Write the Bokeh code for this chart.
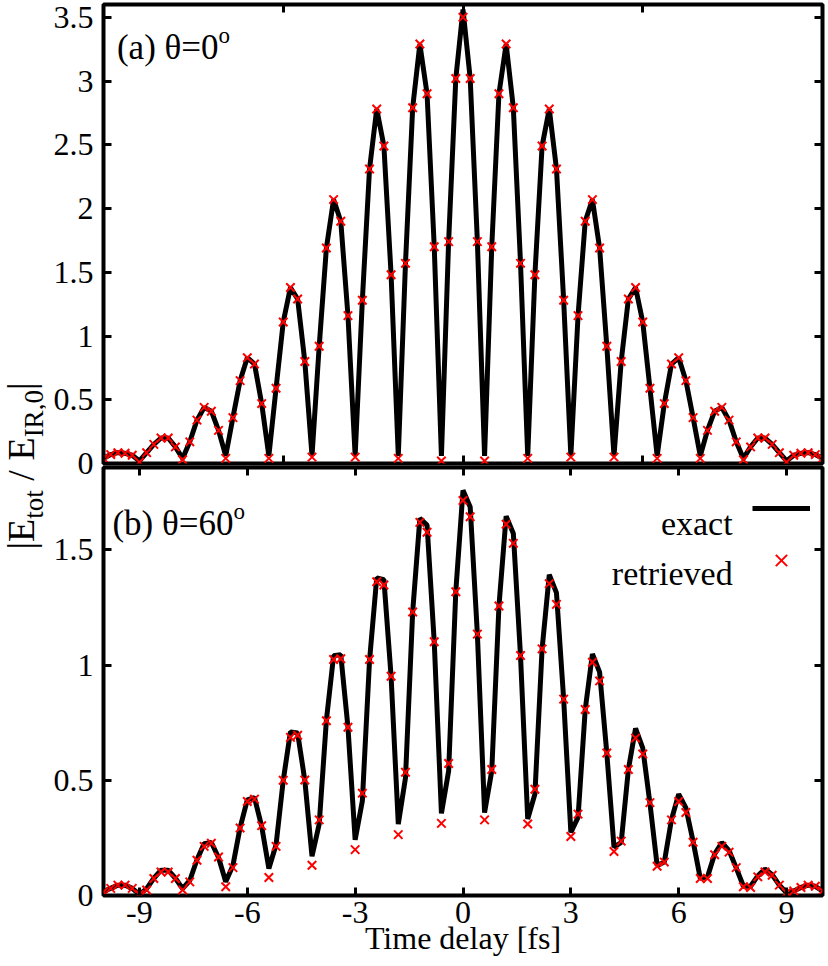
from bokeh.plotting import figure
from bokeh.models import (Range1d, LinearAxis, FixedTicker, Label, Legend,
                          LegendItem, Div, ColumnDataSource, CustomLabelingPolicy)
from bokeh.layouts import row, column
from bokeh.embed import file_html
from bokeh.resources import INLINE

# ---------------- data ----------------
time_fs = [-10.0, -9.8, -9.6, -9.4, -9.2, -9.0, -8.8, -8.6, -8.4, -8.2,
           -8.0, -7.8, -7.6, -7.4, -7.2, -7.0, -6.8, -6.6, -6.4, -6.2,
           -6.0, -5.8, -5.6, -5.4, -5.2, -5.0, -4.8, -4.6, -4.4, -4.2,
           -4.0, -3.8, -3.6, -3.4, -3.2, -3.0, -2.8, -2.6, -2.4, -2.2,
           -2.0, -1.8, -1.6, -1.4, -1.2, -1.0, -0.8, -0.6, -0.4, -0.2,
           0.0, 0.2, 0.4, 0.6, 0.8, 1.0, 1.2, 1.4, 1.6, 1.8,
           2.0, 2.2, 2.4, 2.6, 2.8, 3.0, 3.2, 3.4, 3.6, 3.8,
           4.0, 4.2, 4.4, 4.6, 4.8, 5.0, 5.2, 5.4, 5.6, 5.8,
           6.0, 6.2, 6.4, 6.6, 6.8, 7.0, 7.2, 7.4, 7.6, 7.8,
           8.0, 8.2, 8.4, 8.6, 8.8, 9.0, 9.2, 9.4, 9.6, 9.8, 10.0]

# (a) theta = 0 deg
a_exact = [0.04, 0.07, 0.085, 0.08, 0.065, 0.02, 0.085, 0.15, 0.20, 0.20,
           0.13, 0.04, 0.17, 0.34, 0.44, 0.41, 0.26, 0.06, 0.36, 0.65,
           0.83, 0.78, 0.47, 0.06, 0.59, 1.11, 1.38, 1.29, 0.80, 0.06,
           0.92, 1.69, 2.07, 1.90, 1.16, 0.06, 1.28, 2.31, 2.78, 2.49,
           1.48, 0.06, 1.57, 2.79, 3.29, 2.90, 1.70, 0.06, 1.74, 3.02,
           3.56, 3.02, 1.74, 0.06, 1.70, 2.90, 3.29, 2.79, 1.57, 0.06,
           1.48, 2.49, 2.78, 2.31, 1.28, 0.06, 1.16, 1.90, 2.07, 1.69,
           0.92, 0.06, 0.80, 1.29, 1.38, 1.11, 0.59, 0.06, 0.47, 0.78,
           0.83, 0.65, 0.36, 0.06, 0.26, 0.41, 0.44, 0.34, 0.17, 0.04,
           0.13, 0.20, 0.20, 0.15, 0.085, 0.02, 0.065, 0.08, 0.085, 0.07, 0.04]
a_retrieved = [0.04, 0.07, 0.085, 0.08, 0.065, 0.01, 0.085, 0.15, 0.20, 0.20,
               0.13, 0.03, 0.17, 0.34, 0.44, 0.41, 0.26, 0.04, 0.36, 0.65,
               0.83, 0.78, 0.47, 0.04, 0.59, 1.11, 1.38, 1.29, 0.80, 0.05,
               0.92, 1.69, 2.07, 1.90, 1.16, 0.05, 1.28, 2.31, 2.78, 2.49,
               1.48, 0.04, 1.57, 2.79, 3.29, 2.90, 1.70, 0.02, 1.74, 3.02,
               3.50, 3.02, 1.74, 0.02, 1.70, 2.90, 3.29, 2.79, 1.57, 0.04,
               1.48, 2.49, 2.78, 2.31, 1.28, 0.05, 1.16, 1.90, 2.07, 1.69,
               0.92, 0.05, 0.80, 1.29, 1.38, 1.11, 0.59, 0.04, 0.47, 0.78,
               0.83, 0.65, 0.36, 0.04, 0.26, 0.41, 0.44, 0.34, 0.17, 0.03,
               0.13, 0.20, 0.20, 0.15, 0.085, 0.01, 0.065, 0.08, 0.085, 0.07, 0.04]

# (b) theta = 60 deg
b_exact = [0.016, 0.031, 0.045, 0.045, 0.031, 0.005, 0.03, 0.075, 0.11, 0.11,
           0.075, 0.03, 0.065, 0.155, 0.225, 0.23, 0.165, 0.06, 0.13, 0.295,
           0.415, 0.425, 0.30, 0.117, 0.22, 0.50, 0.71, 0.705, 0.50, 0.170,
           0.31, 0.76, 1.04, 1.045, 0.73, 0.242, 0.41, 1.02, 1.378, 1.37,
           0.95, 0.31, 0.51, 1.23, 1.636, 1.607, 1.10, 0.356, 0.54, 1.32,
           1.758, 1.686, 1.134, 0.360, 0.540, 1.256, 1.646, 1.571, 1.04, 0.332,
           0.44, 1.07, 1.392, 1.313, 0.852, 0.274, 0.339, 0.807, 1.048, 0.969,
           0.618, 0.210, 0.23, 0.547, 0.725, 0.64, 0.40, 0.13, 0.145, 0.33,
           0.44, 0.38, 0.235, 0.075, 0.08, 0.18, 0.23, 0.195, 0.12, 0.04,
           0.04, 0.085, 0.115, 0.09, 0.045, 0.012, 0.02, 0.035, 0.045, 0.04, 0.02]
b_retrieved = [0.016, 0.031, 0.045, 0.045, 0.031, 0.005, 0.024, 0.074, 0.102, 0.102,
               0.074, 0.024, 0.059, 0.153, 0.213, 0.227, 0.167, 0.038, 0.121, 0.293,
               0.408, 0.418, 0.303, 0.078, 0.213, 0.500, 0.686, 0.695, 0.501, 0.131,
               0.328, 0.758, 1.024, 1.027, 0.730, 0.199, 0.444, 1.024, 1.361, 1.347,
               0.951, 0.264, 0.535, 1.230, 1.619, 1.576, 1.101, 0.313, 0.573, 1.318,
               1.714, 1.643, 1.134, 0.328, 0.547, 1.256, 1.611, 1.528, 1.041, 0.310,
               0.461, 1.070, 1.353, 1.263, 0.852, 0.256, 0.353, 0.807, 1.012, 0.931,
               0.618, 0.191, 0.236, 0.547, 0.683, 0.614, 0.403, 0.127, 0.145, 0.328,
               0.408, 0.360, 0.231, 0.074, 0.074, 0.177, 0.213, 0.188, 0.121, 0.038,
               0.035, 0.081, 0.102, 0.088, 0.045, 0.012, 0.020, 0.035, 0.045, 0.040, 0.020]

x_ticks_bottom = [-9, -6, -3, 0, 3, 6, 9]
x_labels_bottom = ["-9", "-6", "-3", "0", "3", "6", "9"]
x_ticks_top = [-10, -5, 0, 5, 10]
y_ticks_a = [0, 0.5, 1, 1.5, 2, 2.5, 3, 3.5]
y_labels_a = ["0", "0.5", "1", "1.5", "2", "2.5", "3", "3.5"]
y_ticks_b = [0, 0.5, 1, 1.5]
y_labels_b = ["0", "0.5", "1", "1.5"]

FONT = "Liberation Serif"
LEFT_DIV = 45
TOP = 3        # space above panel (a)'s frame
OVERLAP = 22   # panel (a) canvas reaches below its frame so its "0" label is whole

src = ColumnDataSource(dict(t=time_fs, a_ex=a_exact, a_re=a_retrieved,
                            b_ex=b_exact, b_re=b_retrieved))

HIDE_LABELS = "for (const i of indices) { indices.unset(i) }\nreturn indices"


def make_axis(ticks, labels=None, **kw):
    ax = LinearAxis(ticker=FixedTicker(ticks=ticks))
    ax.axis_line_color = None
    ax.major_tick_in = 8
    ax.major_tick_out = 0
    ax.major_tick_line_width = 3
    ax.major_tick_line_color = "black"
    ax.minor_tick_line_color = None
    if labels is None:
        ax.major_label_policy = CustomLabelingPolicy(code=HIDE_LABELS)
        ax.major_label_text_font_size = "1px"
        ax.major_label_standoff = 0
    else:
        ax.major_label_overrides = dict(zip(ticks, labels))
        ax.major_label_text_font = FONT
        ax.major_label_text_font_size = "32px"
        ax.major_label_text_color = "black"
    for k, v in kw.items():
        setattr(ax, k, v)
    return ax


def base_fig(height, y_end, top, bottom):
    p = figure(width=828 - LEFT_DIV, height=height, output_backend="svg",
               toolbar_location=None, x_range=Range1d(-10, 10),
               y_range=Range1d(0, y_end), x_axis_location=None,
               y_axis_location=None, min_border_left=103 - LEFT_DIV,
               min_border_right=6, min_border_top=top, min_border_bottom=bottom)
    p.grid.visible = False
    p.outline_line_color = "black"
    p.outline_line_width = 4
    p.background_fill_color = "white"
    return p


def text(x, y, s, size, align="left"):
    return Label(x=x, y=y, text=s, text_font=FONT, text_font_size=size,
                 text_color="black", text_align=align,
                 text_baseline="alphabetic")


# ---------------- panel (a) ----------------
p1 = base_fig(463 + OVERLAP, 3.6, TOP, OVERLAP)
p1.margin = (0, 0, -OVERLAP, 0)
p1.border_fill_color = "white"
p1.add_layout(make_axis(y_ticks_a, y_labels_a, major_label_standoff=10), "left")
p1.add_layout(make_axis(y_ticks_a), "right")
p1.add_layout(make_axis(x_ticks_top), "below")
p1.add_layout(make_axis(x_ticks_top), "above")
p1.line("t", "a_ex", source=src, line_color="black", line_width=5)
p1.scatter("t", "a_re", source=src, marker="x", size=12,
           line_color="#ff0000", line_width=2)
p1.add_layout(text(-6.80, 3.26, "(a) θ=0", "35px", "right"))
p1.add_layout(text(-6.80, 3.36, "o", "23px"))

# ---------------- panel (b) ----------------
p2 = base_fig(503, 1.857, 0, 71)
p2.border_fill_alpha = 0
p2.add_layout(make_axis(y_ticks_b, y_labels_b, major_label_standoff=10), "left")
p2.add_layout(make_axis(y_ticks_b), "right")
p2.add_layout(make_axis(x_ticks_bottom, x_labels_bottom, major_label_standoff=6,
                        axis_label="Time delay [fs]", axis_label_text_font=FONT,
                        axis_label_text_font_size="32px",
                        axis_label_text_font_style="normal",
                        axis_label_text_color="black",
                        axis_label_standoff=-6), "below")
p2.add_layout(make_axis(x_ticks_bottom), "above")
ln = p2.line("t", "b_ex", source=src, line_color="black", line_width=5)
sc = p2.scatter("t", "b_re", source=src, marker="x", size=12,
                line_color="#ff0000", line_width=2)
p2.add_layout(text(-6.384, 1.612, "(b) θ=60", "35px", "right"))
p2.add_layout(text(-6.384, 1.668, "o", "23px"))

legend = Legend(items=[LegendItem(label="", renderers=[ln]),
                       LegendItem(label="", renderers=[sc])],
                location=(649, 315), glyph_width=58, glyph_height=40,
                spacing=12, padding=0, margin=0, label_text_font_size="0px",
                label_standoff=0, border_line_color=None,
                background_fill_alpha=0)
p2.add_layout(legend)
p2.add_layout(text(7.5, 1.612, "exact", "34px", "right"))
p2.add_layout(text(7.5, 1.397, "retrieved", "34px", "right"))

ylabel_html = (
    '<div style="position:absolute; left:25px; top:466px; '
    'transform:translate(-50%,-50%) rotate(-90deg); white-space:nowrap; '
    "font-family:'Liberation Serif'; font-size:38px; line-height:1; color:black;\">"
    '|E<sub style="font-size:27px">tot</sub> / '
    'E<sub style="font-size:27px">IR,0</sub>|</div>'
)
ylab = Div(text=ylabel_html, width=LEFT_DIV, height=966, margin=0,
           styles={"position": "relative"})

layout = row(ylab, column(p1, p2, spacing=0), spacing=0)

with open("out.html", "w") as f:
    f.write(file_html(layout, INLINE))
